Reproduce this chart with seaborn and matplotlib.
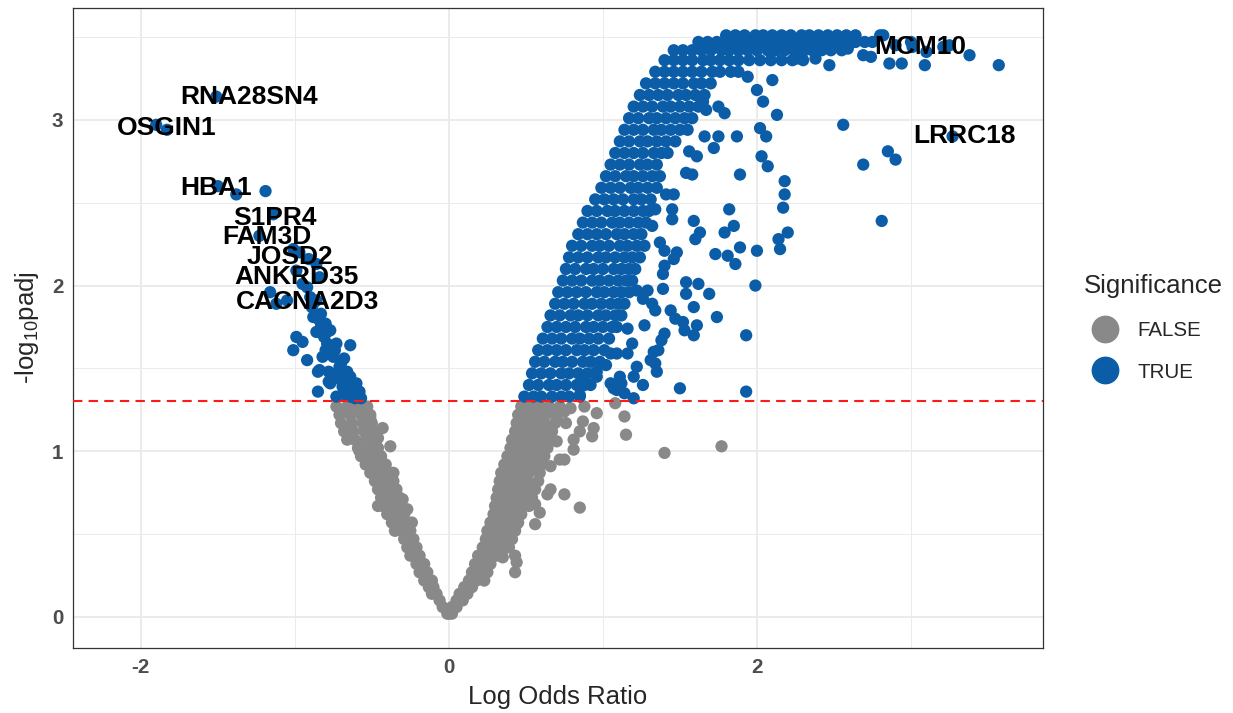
import numpy as np
import pandas as pd
import matplotlib
matplotlib.use("Agg")
import matplotlib.pyplot as plt
import seaborn as sns
from matplotlib.lines import Line2D

# values
# rows: (-log10 padj, [log odds ratio of the genes sitting on that row])

# left arm, not significant
left_ns_rows = [
    (0.02, [-0.01]),
    (0.06, [-0.04]),
    (0.10, [-0.06]),
    (0.14, [-0.08, -0.11]),
    (0.18, [-0.10, -0.13]),
    (0.22, [-0.11, -0.16]),
    (0.27, [-0.14, -0.19]),
    (0.32, [-0.16, -0.21]),
    (0.37, [-0.19, -0.25]),
    (0.42, [-0.21, -0.27]),
    (0.47, [-0.23, -0.29]),
    (0.52, [-0.25, -0.31, -0.35]),
    (0.57, [-0.27, -0.33, -0.37]),
    (0.62, [-0.29, -0.35, -0.40]),
    (0.67, [-0.31, -0.37, -0.43]),
    (0.72, [-0.32, -0.38, -0.44]),
    (0.77, [-0.34, -0.40, -0.46]),
    (0.82, [-0.36, -0.42, -0.48]),
    (0.87, [-0.38, -0.44, -0.51]),
    (0.92, [-0.41, -0.47, -0.54]),
    (0.97, [-0.44, -0.50, -0.57]),
    (1.02, [-0.46, -0.52, -0.59]),
    (1.07, [-0.48, -0.54, -0.61, -0.66]),
    (1.12, [-0.49, -0.55, -0.62, -0.68]),
    (1.17, [-0.50, -0.56, -0.63, -0.70]),
    (1.22, [-0.51, -0.57, -0.64, -0.71]),
    (1.27, [-0.53, -0.59, -0.66, -0.73]),
]
left_ns_extra = [(-0.43, 1.14), (-0.38, 1.03), (-0.46, 0.67), (-0.36, 0.87), (-0.30, 0.71),
                 (-0.27, 0.65), (-0.24, 0.57), (-0.58, 1.00), (-0.66, 1.13), (-0.51, 1.20),
                 (-0.46, 1.08)]

# left arm, significant (incl. the labelled genes)
left_sig = [(-1.51, 3.14), (-1.90, 2.97), (-1.83, 2.94),
            (-1.50, 2.60), (-1.38, 2.55), (-1.19, 2.57),
            (-1.14, 2.43), (-1.23, 2.30),
            (-1.01, 2.22), (-0.97, 2.20), (-0.91, 2.16), (-0.99, 2.09),
            (-0.86, 2.13), (-0.84, 2.05), (-0.95, 2.01), (-0.92, 1.99),
            (-1.16, 1.96), (-1.12, 1.89), (-1.05, 1.91), (-0.90, 1.93),
            (-0.88, 1.89), (-0.86, 1.91), (-0.89, 1.87), (-0.83, 1.83), (-0.88, 1.81),
            (-0.84, 1.79), (-0.80, 1.77), (-0.83, 1.75), (-0.77, 1.73), (-0.79, 1.72),
            (-0.86, 1.72), (-0.99, 1.69), (-0.81, 1.69), (-0.95, 1.66), (-0.79, 1.65),
            (-0.73, 1.65), (-0.64, 1.64), (-1.01, 1.61), (-0.80, 1.61), (-0.74, 1.61),
            (-0.75, 1.57), (-0.76, 1.59), (-0.82, 1.57), (-0.68, 1.56), (-0.92, 1.55),
            (-0.70, 1.53), (-0.71, 1.51), (-0.84, 1.49), (-0.85, 1.48), (-0.78, 1.48),
            (-0.71, 1.49), (-0.66, 1.48), (-0.64, 1.45), (-0.69, 1.45), (-0.74, 1.44),
            (-0.65, 1.43), (-0.78, 1.42), (-0.77, 1.41), (-0.60, 1.41), (-0.69, 1.39),
            (-0.62, 1.38), (-0.85, 1.36), (-0.58, 1.36), (-0.67, 1.34), (-0.73, 1.33),
            (-0.64, 1.33), (-0.57, 1.32), (-0.61, 1.32)]

# right arm, not significant
right_ns_rows = [
    (0.02, [0.00, 0.02]),
    (0.06, [0.02, 0.05]),
    (0.10, [0.05, 0.09]),
    (0.14, [0.07, 0.12]),
    (0.18, [0.10, 0.15]),
    (0.22, [0.13, 0.18, 0.23]),
    (0.27, [0.15, 0.20, 0.25]),
    (0.32, [0.17, 0.22, 0.27]),
    (0.37, [0.19, 0.25, 0.31]),
    (0.42, [0.22, 0.28, 0.34, 0.39]),
    (0.47, [0.24, 0.30, 0.36, 0.41]),
    (0.52, [0.25, 0.31, 0.37, 0.43]),
    (0.57, [0.27, 0.33, 0.39, 0.45]),
    (0.62, [0.29, 0.35, 0.41, 0.47]),
    (0.67, [0.30, 0.36, 0.42, 0.48, 0.52]),
    (0.72, [0.31, 0.37, 0.43, 0.49, 0.54]),
    (0.77, [0.32, 0.38, 0.44, 0.50, 0.56]),
    (0.82, [0.33, 0.39, 0.45, 0.51, 0.58]),
    (0.87, [0.34, 0.40, 0.46, 0.52, 0.59]),
    (0.92, [0.36, 0.42, 0.48, 0.54, 0.60]),
    (0.97, [0.38, 0.44, 0.50, 0.56, 0.62]),
    (1.02, [0.40, 0.46, 0.52, 0.58, 0.64]),
    (1.07, [0.41, 0.47, 0.53, 0.59, 0.65]),
    (1.12, [0.43, 0.49, 0.55, 0.61, 0.67]),
    (1.17, [0.44, 0.50, 0.56, 0.62, 0.69]),
    (1.22, [0.45, 0.51, 0.57, 0.63, 0.70]),
    (1.27, [0.47, 0.53, 0.59, 0.65, 0.72]),
]
right_ns_extra = [(0.37, 0.42), (0.43, 0.37), (0.44, 0.33), (0.43, 0.27), (0.35, 0.36),
                  (0.44, 0.56), (0.56, 0.68), (0.59, 0.63), (0.56, 0.56), (0.64, 0.74),
                  (0.75, 0.74), (0.85, 0.66), (0.66, 0.77), (0.66, 0.91), (0.72, 0.95),
                  (0.75, 0.95), (0.70, 1.06), (0.81, 1.01), (0.81, 1.07), (0.85, 1.12),
                  (0.93, 1.09), (0.94, 1.14), (0.87, 1.18), (0.96, 1.23), (0.76, 1.17),
                  (0.75, 1.24), (0.79, 1.26), (0.88, 1.27), (0.70, 1.21), (1.08, 1.29),
                  (1.14, 1.21), (1.15, 1.10), (1.40, 0.99), (1.77, 1.03)]

# right arm, significant: dense core
right_sig_rows = [
    (1.33, [0.49, 0.55, 0.60, 0.67, 0.73, 0.78, 0.85]),
    (1.40, [0.52, 0.58, 0.65, 0.70, 0.76, 0.83, 0.88, 0.92]),
    (1.47, [0.54, 0.60, 0.66, 0.73, 0.78, 0.84, 0.90, 0.95]),
    (1.54, [0.56, 0.62, 0.69, 0.74, 0.80, 0.87, 0.92, 0.98]),
    (1.61, [0.58, 0.64, 0.70, 0.76, 0.83, 0.88, 0.94, 1.01]),
    (1.68, [0.61, 0.67, 0.73, 0.80, 0.85, 0.91, 0.97, 1.04]),
    (1.75, [0.64, 0.70, 0.76, 0.82, 0.89, 0.94, 1.00, 1.06]),
    (1.82, [0.66, 0.72, 0.79, 0.84, 0.90, 0.97, 1.02, 1.08, 1.12]),
    (1.89, [0.69, 0.75, 0.81, 0.88, 0.93, 0.99, 1.05, 1.10, 1.14]),
    (1.96, [0.71, 0.77, 0.83, 0.89, 0.96, 1.01, 1.07, 1.12, 1.17]),
    (2.03, [0.74, 0.80, 0.86, 0.93, 0.98, 1.04, 1.10, 1.15, 1.19]),
    (2.10, [0.76, 0.82, 0.89, 0.94, 1.00, 1.07, 1.12, 1.17, 1.21]),
    (2.17, [0.78, 0.84, 0.90, 0.97, 1.02, 1.08, 1.14, 1.19, 1.24]),
    (2.24, [0.80, 0.86, 0.93, 0.98, 1.04, 1.11, 1.16, 1.22, 1.27]),
    (2.31, [0.84, 0.90, 0.96, 1.02, 1.09, 1.14, 1.20, 1.25]),
    (2.38, [0.87, 0.93, 0.99, 1.06, 1.11, 1.17, 1.23, 1.28]),
    (2.45, [0.90, 0.96, 1.03, 1.08, 1.14, 1.20, 1.26, 1.30]),
    (2.52, [0.95, 1.01, 1.07, 1.13, 1.20, 1.25, 1.31]),
    (2.59, [0.99, 1.05, 1.11, 1.18, 1.23, 1.29, 1.35]),
    (2.66, [1.02, 1.08, 1.15, 1.20, 1.26, 1.32, 1.37]),
    (2.73, [1.05, 1.11, 1.17, 1.24, 1.29, 1.35]),
    (2.80, [1.08, 1.14, 1.20, 1.26, 1.33, 1.38, 1.42]),
    (2.87, [1.11, 1.17, 1.24, 1.29, 1.35, 1.41, 1.47]),
    (2.94, [1.14, 1.20, 1.26, 1.33, 1.38, 1.44, 1.50, 1.55]),
    (3.01, [1.17, 1.23, 1.30, 1.35, 1.41, 1.47, 1.53, 1.58]),
    (3.08, [1.20, 1.26, 1.32, 1.39, 1.44, 1.50, 1.56, 1.62]),
    (3.15, [1.24, 1.30, 1.36, 1.42, 1.49, 1.54, 1.60, 1.66]),
    (3.22, [1.28, 1.34, 1.40, 1.46, 1.52, 1.59, 1.64, 1.70]),
    (3.29, [1.34, 1.40, 1.46, 1.52, 1.58, 1.64, 1.71, 1.76, 1.83, 1.88]),
    (3.36, [1.40, 1.46, 1.52, 1.58, 1.65, 1.70, 1.76, 1.82, 1.88, 1.95, 2.02, 2.09,
            2.16, 2.23, 2.30]),
    (3.42, [1.46, 1.52, 1.58, 1.64, 1.70, 1.77, 1.82, 1.88, 1.94, 2.00, 2.07, 2.12,
            2.18, 2.24, 2.31, 2.36, 2.42, 2.48, 2.55]),
    (3.47, [1.62, 1.68, 1.74, 1.80, 1.86, 1.92, 1.98, 2.05, 2.10, 2.16, 2.22, 2.28,
            2.35, 2.40, 2.46, 2.52, 2.58, 2.64, 2.70, 2.75]),
    (3.51, [1.80, 1.86, 1.92, 1.99, 2.04, 2.10, 2.16, 2.22, 2.29, 2.34, 2.40, 2.46,
            2.52, 2.58, 2.64, 2.80]),
]

# right arm, significant: scattered genes off the core
right_sig_extra = [
    (0.85, 1.34), (0.87, 1.43), (0.89, 1.41), (0.96, 1.45), (0.96, 1.48), (1.02, 1.52),
    (1.05, 1.41), (1.07, 1.38), (1.09, 1.37), (1.14, 1.35), (1.20, 1.32), (1.11, 1.45),
    (1.12, 1.41), (1.22, 1.51), (1.20, 1.45), (1.26, 1.40), (1.31, 1.55), (1.33, 1.60),
    (1.35, 1.48), (1.34, 1.53), (1.36, 1.61), (1.05, 1.59), (1.09, 1.59), (1.16, 1.59),
    (1.19, 1.65), (1.09, 1.75), (1.16, 1.74), (1.27, 1.76), (1.38, 1.67), (1.40, 1.71),
    (1.34, 1.85), (1.44, 1.85), (1.47, 1.80), (1.52, 1.78), (1.53, 1.73), (1.59, 1.70),
    (1.61, 1.76), (1.59, 1.87), (1.32, 1.89), (1.26, 1.92), (1.22, 1.97), (1.29, 1.97),
    (1.39, 1.98), (1.54, 1.95), (1.54, 2.02), (1.62, 2.01), (1.69, 1.95), (1.74, 1.81),
    (1.39, 2.07), (1.40, 2.12), (1.46, 2.16), (1.48, 2.20), (1.40, 2.21), (1.37, 2.26),
    (1.32, 2.36), (1.45, 2.40), (1.45, 2.46), (1.34, 2.46), (1.41, 2.55), (1.46, 2.55),
    (1.59, 2.39), (1.60, 2.28), (1.63, 2.32), (1.73, 2.19), (1.81, 2.18), (1.86, 2.13),
    (1.89, 2.23), (1.79, 2.32), (1.85, 2.36), (1.82, 2.46), (1.54, 2.68), (1.58, 2.67),
    (1.89, 2.67), (1.56, 2.81), (1.61, 2.78), (1.72, 2.83), (1.66, 2.90), (1.75, 2.90),
    (1.87, 2.90), (1.65, 3.11), (1.67, 3.06), (1.75, 3.08), (1.79, 3.04), (2.00, 3.18),
    (2.04, 3.11), (2.13, 3.03), (1.94, 3.26), (2.10, 3.24), (2.02, 2.95), (2.06, 2.90),
    (2.03, 2.78), (2.07, 2.72), (2.18, 2.63), (2.18, 2.55), (2.17, 2.47), (2.20, 2.32),
    (2.14, 2.28), (2.15, 2.22), (2.00, 2.21), (1.99, 2.00), (1.93, 1.70), (1.93, 1.36),
    (1.50, 1.38), (2.56, 2.97), (2.69, 2.73), (2.85, 2.81), (2.90, 2.76), (2.81, 2.39),
    (3.27, 2.90), (2.26, 3.37), (2.38, 3.37), (2.47, 3.33), (2.59, 3.43), (2.69, 3.39),
    (2.74, 3.38), (2.82, 3.51), (2.86, 3.34), (2.94, 3.34), (2.90, 3.45), (3.00, 3.47),
    (3.01, 3.44), (3.10, 3.41), (3.09, 3.33), (3.21, 3.44), (3.25, 3.45), (3.38, 3.39),
    (3.57, 3.33),
]

label_genes = ["RNA28SN4", "OSGIN1", "HBA1", "S1PR4", "FAM3D", "JOSD2", "ANKRD35",
               "CACNA2D3", "MCM10", "LRRC18"]
label_pos = [(-1.30, 3.14), (-1.83, 2.95), (-1.51, 2.59), (-1.13, 2.41), (-1.18, 2.29),
             (-1.03, 2.17), (-0.99, 2.05), (-0.92, 1.90), (3.06, 3.44), (3.35, 2.90)]

GREY = "#898989"
BLUE = "#0A5DA6"


def flatten(rows, extra):
    xs, ys = [], []
    for y, row in rows:
        xs += row
        ys += [y] * len(row)
    xs += [p[0] for p in extra]
    ys += [p[1] for p in extra]
    return xs, ys


parts = [flatten(left_ns_rows, left_ns_extra), flatten([], left_sig),
         flatten(right_ns_rows, right_ns_extra), flatten(right_sig_rows, right_sig_extra)]
df = pd.DataFrame({"lor": sum([p[0] for p in parts], []),
                   "nlp": sum([p[1] for p in parts], [])})
cutoff = -np.log10(0.05)
df["Significance"] = np.where(df["nlp"] > cutoff, "TRUE", "FALSE")

sns.set_style("white")
plt.rcParams["font.family"] = ["Liberation Sans", "DejaVu Sans"]
plt.rcParams["axes.unicode_minus"] = False
plt.rcParams["mathtext.fontset"] = "custom"
plt.rcParams["mathtext.rm"] = "Liberation Sans"
plt.rcParams["mathtext.it"] = "Liberation Sans:italic"

fig, ax = plt.subplots(figsize=(12.33, 7.13), dpi=100)
fig.subplots_adjust(left=0.0592, right=0.8459, bottom=0.0912, top=0.9888)

sns.scatterplot(data=df, x="lor", y="nlp", hue="Significance",
                palette={"FALSE": GREY, "TRUE": BLUE}, s=78, linewidth=0,
                edgecolor="none", legend=False, ax=ax, zorder=3)

ax.axhline(cutoff, color="#FF1A1A", lw=1.5, ls=(0, (4.5, 3)), zorder=4)

for name, (lx, ly) in zip(label_genes, label_pos):
    ax.text(lx, ly, name, ha="center", va="center", fontsize=19,
            fontweight="bold", color="black", zorder=5)

ax.set_xlim(-2.44, 3.857)
ax.set_ylim(-0.187, 3.675)
ax.set_xticks([-2, 0, 2])
ax.set_xticks([-1, 1, 3], minor=True)
ax.set_yticks([0, 1, 2, 3])
ax.set_yticks([0.5, 1.5, 2.5, 3.5], minor=True)
ax.set_axisbelow(True)
ax.grid(which="major", color="#EBEBEB", lw=1.4)
ax.grid(which="minor", color="#EBEBEB", lw=0.7)
for sp in ax.spines.values():
    sp.set_color("#333333")
    sp.set_linewidth(0.9)
ax.tick_params(which="major", length=4.5, width=0.9, color="#333333",
               labelsize=14.8, labelcolor="#4D4D4D", pad=2.5)
ax.tick_params(which="minor", length=0)
for lab in ax.get_xticklabels() + ax.get_yticklabels():
    lab.set_fontweight("bold")

ax.set_xlabel("Log Odds Ratio", fontsize=18.5, labelpad=6)
ax.set_ylabel(r"-log$_{\mathrm{10}}$padj", fontsize=18.5, labelpad=8)

handles = [Line2D([], [], marker="o", ls="", color=GREY, markersize=19),
           Line2D([], [], marker="o", ls="", color=BLUE, markersize=19)]
leg = ax.legend(handles, ["FALSE", "TRUE"], title="Significance",
                loc="center left", bbox_to_anchor=(1.031, 0.5), frameon=False,
                fontsize=14.8, title_fontsize=18.5, borderpad=0,
                handlelength=2.14, handletextpad=0.49, labelspacing=1.1)
leg._legend_box.align = "left"

fig.savefig("out.png", dpi=100)
